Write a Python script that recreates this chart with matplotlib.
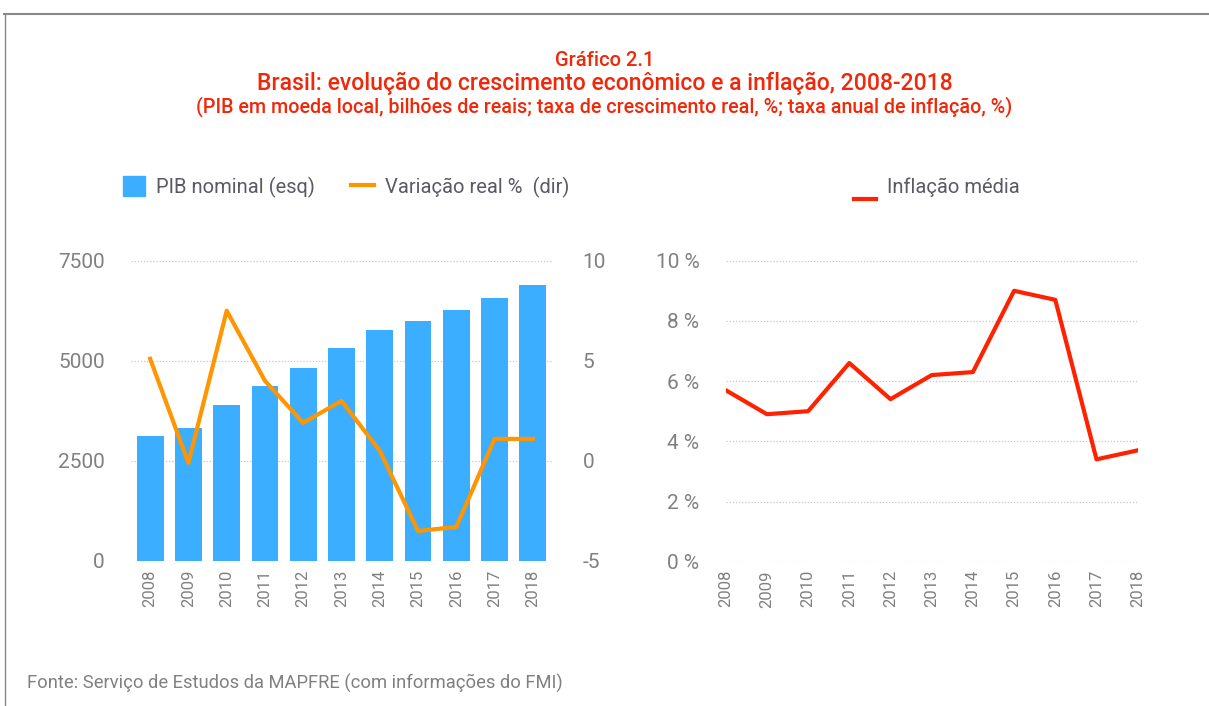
import numpy as np
import matplotlib
matplotlib.use("Agg")
import matplotlib.pyplot as plt
from matplotlib.lines import Line2D
from matplotlib.patches import Patch
from matplotlib.legend_handler import HandlerBase

plt.rcParams['font.family'] = ['Roboto', 'DejaVu Sans']
plt.rcParams['axes.unicode_minus'] = False

# Data
years = [str(y) for y in range(2008, 2019)]
pib_nominal = [3110, 3333, 3886, 4376, 4815, 5332, 5779, 5996, 6259, 6560, 6889]
variacao_real = [5.1, -0.1, 7.5, 4.0, 1.9, 3.0, 0.5, -3.5, -3.3, 1.1, 1.1]
inflacao_media = [5.7, 4.9, 5.0, 6.6, 5.4, 6.2, 6.3, 9.0, 8.7, 3.4, 3.7]

BLUE = "#3BAEFF"
ORANGE = "#FF9500"
RED = "#FF2200"
TITLE_RED = "#F0280A"
TICK_GRAY = "#808080"
TEXT_GRAY = "#5A5A64"
GRID = "#C8C8C8"

W, H = 1209, 706
fig = plt.figure(figsize=(W / 100, H / 100), dpi=100)

# frame lines (top and left)
fig.add_artist(Line2D([4 / W, 1], [1 - 13.5 / H, 1 - 13.5 / H], color="#888888", lw=1.5))
fig.add_artist(Line2D([5 / W, 5 / W], [0, 1 - 13.5 / H], color="#888888", lw=1.0))

# titles
fig.text(0.5, 1 - 61 / H, "Gráfico 2.1", ha="center", va="center", color=TITLE_RED,
         fontsize=14.5, fontweight="medium")
fig.text(0.5, 1 - 83 / H, "Brasil: evolução do crescimento econômico e a inflação, 2008-2018",
         ha="center", va="center", color=TITLE_RED, fontsize=16.6, fontweight="medium")
fig.text(0.5, 1 - 107 / H,
         "(PIB em moeda local, bilhões de reais; taxa de crescimento real, %; taxa anual de inflação, %)",
         ha="center", va="center", color=TITLE_RED, fontsize=14.2, fontweight="medium")

fig.text(27 / W, 1 - 683 / H, "Fonte: Serviço de Estudos da MAPFRE (com informações do FMI)",
         ha="left", va="center", color=TICK_GRAY, fontsize=13.2)


def style_axes(ax):
    for s in ax.spines.values():
        s.set_visible(False)
    ax.grid(axis="y", color=GRID, linestyle=(0, (1, 1.5)), linewidth=0.9)
    ax.set_axisbelow(True)
    ax.tick_params(axis="both", length=0, colors=TICK_GRAY)
    ax.tick_params(axis="y", labelsize=15, pad=19)
    ax.tick_params(axis="x", labelsize=12, rotation=90, pad=6)


class LowLineHandler(HandlerBase):
    # legend line drawn below the text centre, as in the original
    def create_artists(self, legend, orig_handle, xdescent, ydescent, width, height,
                       fontsize, trans):
        y = -ydescent - 0.3 * fontsize
        line = Line2D([-xdescent, width - xdescent], [y, y], color=orig_handle.get_color(),
                      lw=orig_handle.get_linewidth(), transform=trans)
        return [line]


# Left chart: bars + line
x = np.arange(len(years))
ax1 = fig.add_axes([131 / W, (H - 561) / H, 421 / W, 300.3 / H])
ax1.bar(x, pib_nominal, width=0.7, color=BLUE, zorder=2)
ax1.set_ylim(0, 7500)
ax1.set_yticks([0, 2500, 5000, 7500])
ax1.set_xlim(-0.5, 10.5)
ax1.set_xticks(x)
ax1.set_xticklabels(years)
style_axes(ax1)

ax1b = ax1.twinx()
ax1b.plot(x, variacao_real, color=ORANGE, lw=3, zorder=3)
ax1b.set_ylim(-5, 10)
ax1b.set_yticks([-5, 0, 5, 10])
for s in ax1b.spines.values():
    s.set_visible(False)
ax1b.tick_params(axis="y", length=0, colors=TICK_GRAY, labelsize=15, pad=22)

handles1 = [Patch(color=BLUE), Line2D([], [], color=ORANGE, lw=3)]
fig.legend(handles1, ["PIB nominal (esq)", "Variação real %  (dir)"], ncol=2, frameon=False,
           loc="center left", bbox_to_anchor=(105 / W, 1 - 187 / H), fontsize=14.5,
           labelcolor=TEXT_GRAY, handlelength=1.1, handleheight=1.1, handletextpad=0.55,
           columnspacing=1.8)

# Right chart: inflation
ax2 = fig.add_axes([725.7 / W, (H - 561.7) / H, 412 / W, 301 / H])
ax2.plot(x, inflacao_media, color=RED, lw=3, zorder=3)
ax2.set_ylim(0, 10)
ax2.set_yticks([0, 2, 4, 6, 8, 10])
ax2.set_yticklabels([f"{v} %" for v in [0, 2, 4, 6, 8, 10]])
ax2.set_xlim(0, 10)
ax2.set_xticks(x)
ax2.set_xticklabels(years)
style_axes(ax2)

red_handle = Line2D([], [], color=RED, lw=3)
fig.legend([red_handle], ["Inflação média"], frameon=False,
           loc="center left", bbox_to_anchor=(836 / W, 1 - 187 / H), fontsize=14.5,
           labelcolor=TEXT_GRAY, handlelength=1.1, handletextpad=0.55,
           handler_map={red_handle: LowLineHandler()})

fig.savefig("out.png", dpi=100)
